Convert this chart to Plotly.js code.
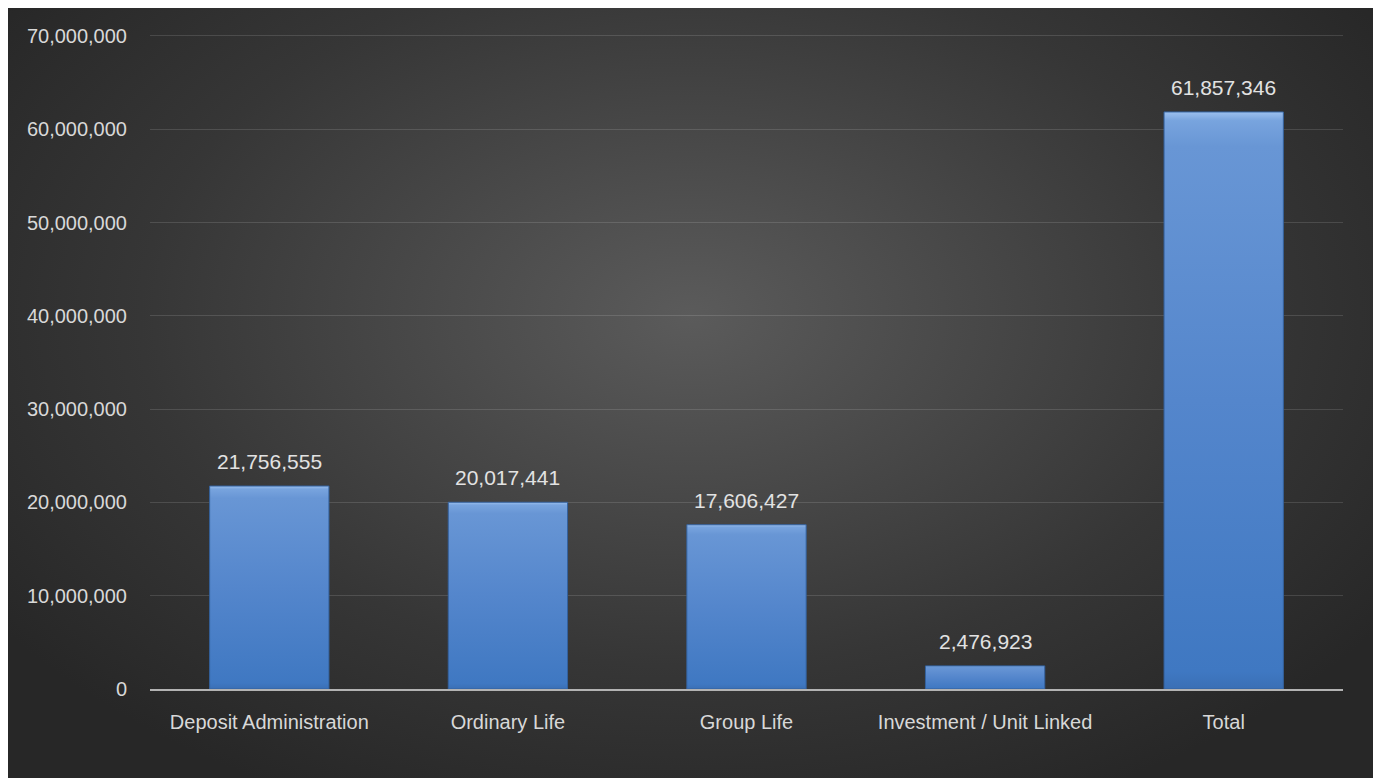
<!DOCTYPE html>
<html>
<head>
<meta charset="utf-8">
<script src="https://cdn.plot.ly/plotly-3.0.1.min.js"></script>
<style>
  html, body { margin: 0; padding: 0; background: #ffffff; width: 1373px; height: 778px; overflow: hidden; }
  #bg { position: absolute; left: 8px; top: 8px; width: 1365px; height: 770px;
        background: radial-gradient(ellipse 62% 70% at 50% 40%, #5b5b5b 0%, #4a4a4a 30%, #363636 65%, #272727 100%); }
  #chart { position: absolute; left: 0; top: 0; width: 1373px; height: 778px; }
</style>
</head>
<body>
<div id="bg"></div>
<div id="chart"></div>
<script>
const categories = ["Deposit Administration", "Ordinary Life", "Group Life", "Investment / Unit Linked", "Total"];
const values = [21756555, 20017441, 17606427, 2476923, 61857346];
const tickValues = [0, 10000000, 20000000, 30000000, 40000000, 50000000, 60000000, 70000000];
const tickLabels = ["0", "10,000,000", "20,000,000", "30,000,000", "40,000,000", "50,000,000", "60,000,000", "70,000,000"];

const FONT = '"Liberation Sans", Arial, sans-serif';

const trace = {
  type: 'bar',
  x: categories,
  y: values,
  marker: { color: '#5588cf', line: { color: '#34629f', width: 1 } },
  hoverinfo: 'none'
};

const annotations = categories.map((c, i) => ({
  x: c, y: values[i], xref: 'x', yref: 'y',
  text: values[i].toLocaleString('en-US'),
  showarrow: false, yanchor: 'bottom', yshift: 11,
  font: { family: FONT, size: 21, color: '#e2e2e2' }
}));

const layout = {
  width: 1373, height: 778,
  margin: { l: 150, r: 30, t: 31, b: 89 },
  paper_bgcolor: 'rgba(0,0,0,0)',
  plot_bgcolor: 'rgba(0,0,0,0)',
  bargap: 0.5,
  showlegend: false,
  font: { family: FONT, size: 20, color: '#d8d8d8' },
  xaxis: {
    type: 'category',
    showgrid: false,
    showline: true, linecolor: '#b3b3b3', linewidth: 2,
    ticks: 'outside', ticklen: 14, tickcolor: 'rgba(0,0,0,0)',
    tickfont: { family: FONT, size: 20, color: '#d8d8d8' },
    fixedrange: true
  },
  yaxis: {
    range: [0, 70535000],
    tickmode: 'array', tickvals: tickValues, ticktext: tickLabels,
    showgrid: true, gridcolor: 'rgba(255,255,255,0.13)', gridwidth: 1,
    zeroline: false, showline: false,
    ticks: 'outside', ticklen: 18, tickcolor: 'rgba(0,0,0,0)',
    tickfont: { family: FONT, size: 20, color: '#d8d8d8' },
    fixedrange: true
  },
  annotations: annotations
};

Plotly.newPlot('chart', [trace], layout, { displayModeBar: false, staticPlot: true }).then(gd => {
  const svg = gd.querySelector('svg.main-svg');
  const ns = 'http://www.w3.org/2000/svg';
  let defs = svg.querySelector('defs');
  if (!defs) { defs = document.createElementNS(ns, 'defs'); svg.insertBefore(defs, svg.firstChild); }
  const g = document.createElementNS(ns, 'linearGradient');
  g.setAttribute('id', 'barGrad');
  g.setAttribute('x1', '0'); g.setAttribute('y1', '0');
  g.setAttribute('x2', '0'); g.setAttribute('y2', '1');
  [['0', '#9cc0ee'], ['0.015', '#78a4de'], ['0.06', '#6896d5'], ['0.5', '#5486cc'], ['0.97', '#3f78c2'], ['1', '#3a6fb5']].forEach(([o, c]) => {
    const s = document.createElementNS(ns, 'stop');
    s.setAttribute('offset', o); s.setAttribute('stop-color', c);
    g.appendChild(s);
  });
  defs.appendChild(g);
  gd.querySelectorAll('.barlayer .point path').forEach(p => { p.style.fill = 'url(#barGrad)'; });
});
</script>
</body>
</html>
